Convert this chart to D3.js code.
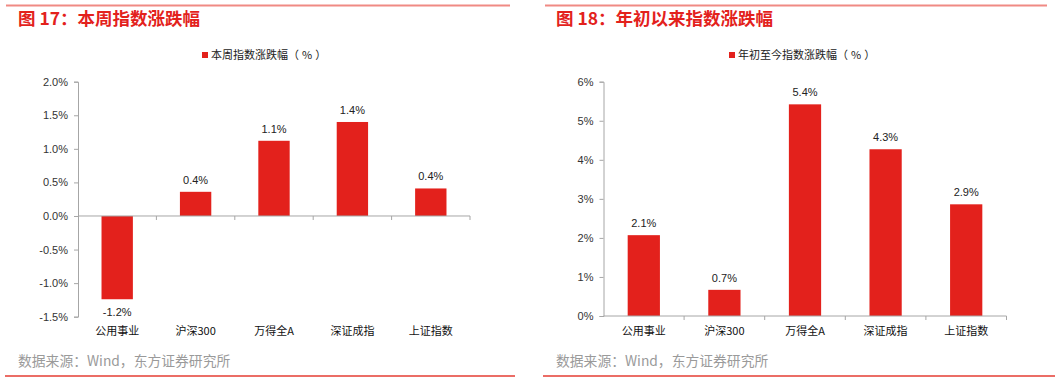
<!DOCTYPE html>
<html>
<head>
<meta charset="utf-8">
<script src="https://cdn.jsdelivr.net/npm/d3@7.9.0/dist/d3.min.js"></script>
<style>
  body { margin: 0; background: #fff; }
  svg { display: block; font-family: "Liberation Sans", "Noto Sans CJK SC", sans-serif; }
</style>
</head>
<body>
<svg id="chart" width="1061" height="382"></svg>
<script>
// categories shared by both charts
const categories = ["公用事业", "沪深300", "万得全A", "深证成指", "上证指数"];

// weekly change (%)
const weeklyValues = [-1.24, 0.36, 1.12, 1.40, 0.41];
const weeklyLabels = ["-1.2%", "0.4%", "1.1%", "1.4%", "0.4%"];
const weeklyTicks = [2.0, 1.5, 1.0, 0.5, 0.0, -0.5, -1.0, -1.5];

// year-to-date change (%)
const ytdValues = [2.07, 0.67, 5.42, 4.27, 2.86];
const ytdLabels = ["2.1%", "0.7%", "5.4%", "4.3%", "2.9%"];
const ytdTicks = [0, 1, 2, 3, 4, 5, 6];

const svg = d3.select("#chart");
const RED = "#e3211c";
const LINE = "#eb6d66";

function drawPanel(p) {
    const g = svg.append("g");

    // frame lines top & bottom
    g.append("line").attr("x1", p.lineX0).attr("x2", p.lineX1)
        .attr("y1", 5.5).attr("y2", 5.5).attr("stroke", "#f08a84").attr("stroke-width", 2);
    g.append("line").attr("x1", p.botX0).attr("x2", p.botX1)
        .attr("y1", 376).attr("y2", 376).attr("stroke", LINE).attr("stroke-width", 2);

    // title
    g.append("text").attr("x", p.titleX).attr("y", 25)
        .attr("fill", RED).attr("font-size", 17.5).attr("font-weight", "bold")
        .attr("font-family", "'Noto Sans CJK SC', sans-serif")
        .text(p.title);

    // legend
    g.append("rect").attr("x", p.legendX).attr("y", 52).attr("width", 6).attr("height", 6).attr("fill", RED);
    const lt = g.append("text").attr("x", p.legendX + 9).attr("y", 59)
        .attr("font-size", 11).attr("fill", "#222")
        .attr("font-family", "'Noto Sans CJK SC', sans-serif");
    lt.append("tspan").text(p.legend);
    lt.append("tspan").attr("dx", 0).attr("letter-spacing", 3).text("（%）");

    const x = d3.scaleBand().domain(categories).range([p.x0, p.x1])
        .paddingInner(0.6).paddingOuter(0.3);
    const y = d3.scaleLinear().domain(p.domain).range([p.y0, p.y1]);

    // y axis
    const yAxis = d3.axisLeft(y).tickValues(p.ticks).tickSize(4).tickPadding(6)
        .tickFormat(p.fmt);
    const ya = g.append("g").attr("transform", `translate(${p.x0},0)`).call(yAxis);
    ya.selectAll("path, line").attr("stroke", "#a6a6a6");
    ya.selectAll("text").attr("font-size", 11).attr("fill", "#333")
        .attr("font-family", "'Liberation Sans', sans-serif");

    // bars
    g.selectAll("rect.bar").data(p.values).enter().append("rect")
        .attr("class", "bar")
        .attr("x", (d, i) => x(categories[i]))
        .attr("width", x.bandwidth())
        .attr("y", d => y(Math.max(0, d)))
        .attr("height", d => Math.abs(y(d) - y(0)))
        .attr("fill", RED);

    // x axis at zero with boundary ticks
    const zy = y(0);
    g.append("line").attr("x1", p.x0).attr("x2", p.x1).attr("y1", zy).attr("y2", zy)
        .attr("stroke", "#a6a6a6");
    const bounds = categories.map((c, i) => x(c) + x.bandwidth() + x.step() * 0.3);
    g.selectAll("line.xt").data(bounds).enter().append("line")
        .attr("class", "xt")
        .attr("x1", d => d).attr("x2", d => d)
        .attr("y1", zy).attr("y2", zy + 4)
        .attr("stroke", "#a6a6a6");

    // value labels
    g.selectAll("text.val").data(p.values).enter().append("text")
        .attr("class", "val")
        .attr("x", (d, i) => x(categories[i]) + x.bandwidth() / 2)
        .attr("y", d => d >= 0 ? y(d) - 8 : y(d) + 17)
        .attr("text-anchor", "middle").attr("font-size", 11).attr("fill", "#222")
        .text((d, i) => p.labels[i]);

    // category labels along the bottom
    g.selectAll("text.cat").data(categories).enter().append("text")
        .attr("class", "cat")
        .attr("x", d => x(d) + x.bandwidth() / 2)
        .attr("y", 335)
        .attr("text-anchor", "middle").attr("font-size", 11).attr("fill", "#111")
        .attr("font-family", "'Noto Sans CJK SC', sans-serif")
        .text(d => d);

    // source note
    g.append("text").attr("x", p.sourceX).attr("y", 366)
        .attr("font-size", 13.8).attr("fill", "#9a9a9a")
        .attr("font-family", "'Noto Sans CJK SC', sans-serif")
        .text("数据来源：Wind，东方证券研究所");
}

drawPanel({
    title: "图 17：本周指数涨跌幅",
    legend: "本周指数涨跌幅",
    titleX: 18, legendX: 202, sourceX: 18,
    lineX0: 6, lineX1: 510, botX0: 5, botX1: 515,
    x0: 78, x1: 470, y0: 316.7, y1: 81.7,
    domain: [-1.5, 2.0], ticks: weeklyTicks,
    fmt: d => d.toFixed(1) + "%",
    values: weeklyValues, labels: weeklyLabels
});

drawPanel({
    title: "图 18：年初以来指数涨跌幅",
    legend: "年初至今指数涨跌幅",
    titleX: 556, legendX: 729, sourceX: 556,
    lineX0: 545, lineX1: 1047, botX0: 543, botX1: 1055,
    x0: 603.5, x1: 1006.5, y0: 316, y1: 81.7,
    domain: [0, 6], ticks: ytdTicks,
    fmt: d => d + "%",
    values: ytdValues, labels: ytdLabels
});
</script>
</body>
</html>
